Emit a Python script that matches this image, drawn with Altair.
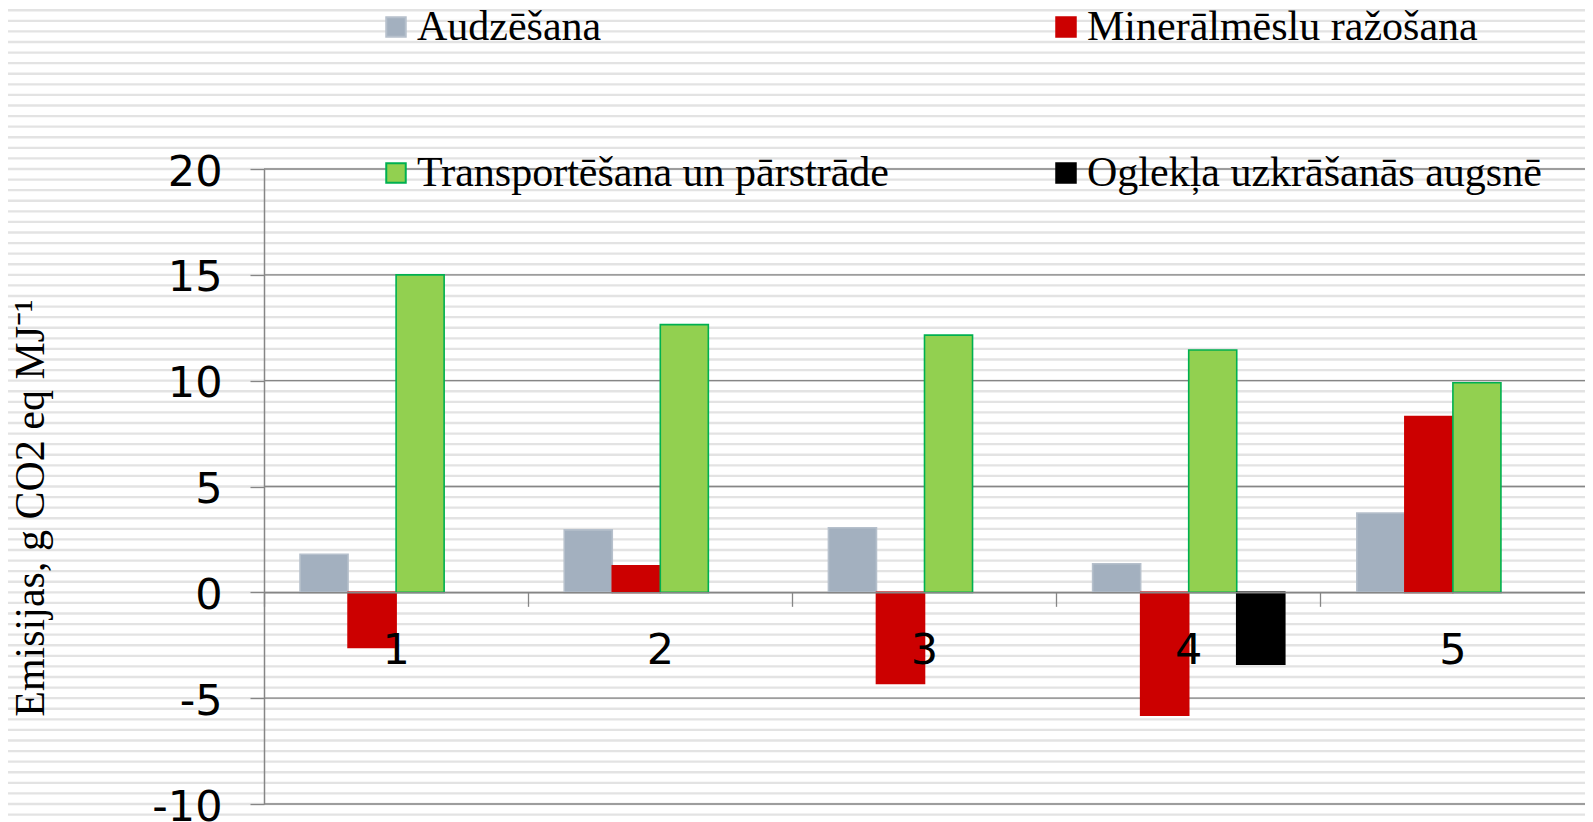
import altair as alt
import pandas as pd

# ---- data ----
groups = ["1", "2", "3", "4", "5"]
series = ["Audzēšana", "Minerālmēslu ražošana",
          "Transportēšana un pārstrāde", "Oglekļa uzkrāšanās augsnē"]
audzesana = [1.8, 2.95, 3.05, 1.35, 3.75]
mineralmeslu = [-2.6, 1.25, -4.3, -5.8, 8.3]
transports = [15.0, 12.65, 12.15, 11.45, 9.9]
oglekla = [None, None, None, -3.4, None]
y_ticks = [-10, -5, 0, 5, 10, 15, 20]
y_title = ["Emisijas, g CO2 eq MJ⁻¹"]

fill_colors = ["#A3B0BF", "#CC0000", "#92D050", "#000000"]
stroke_colors = ["#B6C0CC", "#CC0000", "#00B050", "#000000"]

rows = []
for s, vals in zip(series, [audzesana, mineralmeslu, transports, oglekla]):
    for g, v in zip(groups, vals):
        if v is not None:
            rows.append({"group": g, "series": s, "value": v})
df = pd.DataFrame(rows)

# decorative background stripes (chart-area pattern), every half unit
stripes = pd.DataFrame({"y": [-12 + 0.5 * i for i in range(82)]})
grid = pd.DataFrame({"y": y_ticks})

W, H = 1321, 635
yscale = alt.Scale(domain=[-10, 20], nice=False, zero=False)

stripe_layer = alt.Chart(stripes).mark_rule(
    color="#E3E3E3", strokeWidth=2.4
).encode(
    y=alt.Y("y:Q", scale=yscale),
    x=alt.value(-262), x2=alt.value(W + 10),
)

grid_layer = alt.Chart(grid).mark_rule(
    color="#868686", strokeWidth=1.3
).encode(
    y=alt.Y("y:Q", scale=yscale),
    x=alt.value(0), x2=alt.value(W),
)

title_layer = alt.Chart(pd.DataFrame({"t": y_title})).mark_text(
    font="Liberation Serif", fontSize=42, color="black", angle=270,
    align="center", baseline="alphabetic"
).encode(
    text="t:N", x=alt.value(-220), y=alt.value(339),
)

bars = alt.Chart(df).mark_bar(strokeWidth=1.6).encode(
    x=alt.X("group:N", sort=groups,
            scale=alt.Scale(paddingInner=0, paddingOuter=0),
            axis=alt.Axis(
                title=None, offset=-H * 10 / 30, bandPosition=0,
                labelAngle=0, labelFont="DejaVu Sans", labelFontSize=43,
                labelColor="black", labelPadding=23, labelBaseline="top",
                tickSize=14, tickColor="#868686", tickWidth=1.3,
                domainColor="#868686", domainWidth=1.5, zindex=1,
                labelFlush=False)),
    xOffset=alt.XOffset("series:N", sort=series,
                        scale=alt.Scale(domain=series, paddingInner=0,
                                        paddingOuter=0.75)),
    y=alt.Y("value:Q", scale=yscale,
            axis=alt.Axis(
                values=y_ticks, grid=False, zindex=1, title=None,
                labelFont="DejaVu Sans", labelFontSize=43, labelColor="black",
                labelPadding=28, labelOffset=3,
                labelExpr="replace(datum.label, '\u2212', '-')",
                tickSize=14, tickColor="#868686", tickWidth=1.3,
                domainColor="#868686", domainWidth=1.5)),
    fill=alt.Fill("series:N", sort=series,
                  scale=alt.Scale(domain=series, range=fill_colors),
                  legend=alt.Legend(
                      title=None, orient="none", legendX=111, legendY=-163,
                      columns=2, direction="horizontal",
                      symbolType="square", symbolSize=380,
                      symbolStrokeWidth=2,
                      labelFont="Liberation Serif", labelFontSize=42,
                      labelColor="black", labelOffset=0, labelLimit=0,
                      columnPadding=156, rowPadding=104, padding=0)),
    stroke=alt.Stroke("series:N", sort=series,
                      scale=alt.Scale(domain=series, range=stroke_colors)),
)

chart = alt.layer(stripe_layer, grid_layer, bars, title_layer).properties(
    width=W, height=H,
    autosize=alt.AutoSizeParams(type="none"),
    padding={"left": 256, "top": 161, "right": 0, "bottom": 18},
    background="white",
).configure_view(stroke=None)

chart.save("out.html", embed_options={"renderer": "svg", "actions": False})
